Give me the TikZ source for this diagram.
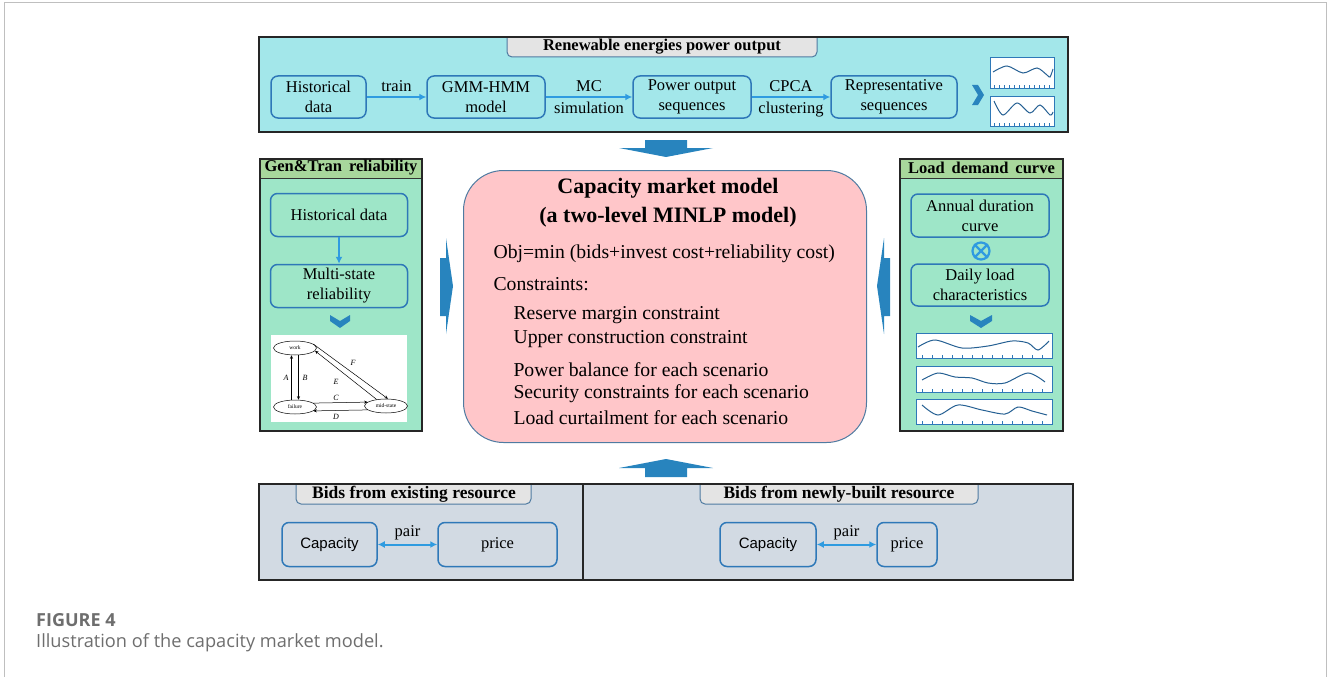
\documentclass[tikz,border=0pt]{standalone}
\usepackage{fontspec}
\setmainfont{Liberation Serif}
\newfontfamily\capfont{Open Sans}
\newfontfamily\arialfont{Liberation Sans}
\usetikzlibrary{arrows.meta}
\usetikzlibrary{shapes.geometric}

\definecolor{boxblue}{HTML}{2E78B8}
\definecolor{linkblue}{HTML}{2F9BE0}
\definecolor{cyanfill}{HTML}{A3E7EA}
\definecolor{mintfill}{HTML}{9EE6C8}
\definecolor{barfill}{HTML}{A8D79C}
\definecolor{pinkfill}{HTML}{FFC6C9}
\definecolor{grayfill}{HTML}{D2DAE3}
\definecolor{tabfill}{HTML}{E4E4E4}
\definecolor{capgray}{HTML}{6E6E6E}

\tikzset{
  box/.style={draw=boxblue, line width=1.5pt, rounded corners=7pt, align=center,
    inner sep=0pt, font=\fontsize{16.5}{20}\selectfont},
  link/.style={draw=linkblue, line width=2pt, -{Latex[length=7pt,width=7pt]}},
  pairlink/.style={draw=linkblue, line width=2pt,
    {Latex[length=7pt,width=7pt]}-{Latex[length=7pt,width=7pt]}},
  lbl/.style={font=\fontsize{16.5}{20}\selectfont, inner sep=1pt},
  panel/.style={draw=black!85, line width=1.5pt},
  tab/.style={fill=tabfill, draw=boxblue!60!gray, line width=1pt, rounded corners=5pt},
  tabtitle/.style={font=\bfseries\fontsize{16.5}{19}\selectfont},
  blockarrow/.style={fill=linkblue!85!black},
  wave/.style={draw=boxblue!80!black, line width=1pt},
  curvebox/.style={draw=boxblue, line width=1pt, fill=white, inner sep=0pt},
  body/.style={anchor=west, font=\fontsize{19.7}{23}\selectfont},
  state/.style={draw, ellipse, line width=0.5pt, inner sep=0pt, minimum width=43pt,
    minimum height=14pt, font=\fontsize{5.5}{6}\selectfont},
  trans/.style={line width=0.5pt, -{Stealth[length=3.5pt,width=3pt]}},
  letter/.style={font=\itshape\fontsize{8}{9}\selectfont, inner sep=0pt},
}

\begin{document}
\begin{tikzpicture}[x=1pt,y=-1pt]
  \useasboundingbox (0,0) rectangle (1328,677);
  % Frame.
  \draw[black!25, line width=1pt] (4,690) -- (4,3) -- (1326,3) -- (1326,690);

  % Renewable energies panel.
  \fill[cyanfill] (259,37) rectangle (1068,132);
  \path[tab] (507,37) -- (507,57) -- (817,57) -- (817,37);
  \draw[panel] (259,37) rectangle (1068,132);
  \node[tabtitle] (retitle) at (662,47) {Renewable energies power output};
  \node[box, minimum width=95pt, minimum height=42pt] (hist) at (318.5,97) {Historical\\data};
  \node[box, minimum width=118pt, minimum height=42pt] (gmm) at (486,97) {GMM-HMM\\model};
  \node[box, minimum width=118pt, minimum height=42pt] (seq) at (692,97) {Power output\\sequences};
  \node[box, minimum width=126pt, minimum height=42pt] (rep) at (894,97) {Representative\\sequences};
  \draw[link] (hist) -- node[lbl, above=3pt] (trainlbl) {train} (gmm);
  \draw[link] (gmm) -- node[lbl, above=3pt] (mclbl) {MC} node[lbl, below=3pt] (simlbl) {simulation} (seq);
  \draw[link] (seq) -- node[lbl, above=3pt] (cpcalbl) {CPCA} node[lbl, below=3pt] (clulbl) {clustering} (rep);
  \fill[blockarrow] (972,85) -- (978,85) -- (984,95) -- (978,105) -- (972,105) -- (978,95) -- cycle;
  \node[curvebox, minimum width=64pt, minimum height=30pt] (wavea) at (1022,73) {};
  \node[curvebox, minimum width=64pt, minimum height=30pt] (waveb) at (1022,111) {};
  \draw[wave] plot[smooth] coordinates {(993,72) (1007,66) (1023,73) (1037,68) (1047,75) (1050,77) (1053,69)};
  \draw[wave] plot[smooth] coordinates {(994,101) (1003,115) (1017,103) (1030,113) (1040,105) (1050,115) (1053,112)};
  \foreach \x in {994,999,...,1052} {
    \draw[boxblue, line width=0.5pt] (\x,88) -- (\x,85);
    \draw[boxblue, line width=0.5pt] (\x,126) -- (\x,123);
  }

  % Block arrows.
  \fill[blockarrow] (645,140) -- (687,140) -- (687,148) -- (713,148) -- (666,157) -- (619,148) -- (645,148) -- cycle;
  \fill[blockarrow] (645,477) -- (687,477) -- (687,468) -- (713,468) -- (666,459) -- (619,468) -- (645,468) -- cycle;
  \fill[blockarrow] (440,258) -- (446,258) -- (446,238) -- (453,286) -- (446,334) -- (446,316) -- (440,316) -- cycle;
  \fill[blockarrow] (890,258) -- (884,258) -- (884,238) -- (877,286) -- (884,334) -- (884,316) -- (890,316) -- cycle;

  % Gen&Tran reliability panel.
  \fill[mintfill] (260,159) rectangle (422,431);
  \fill[barfill] (260,159) rectangle (422,178);
  \draw[black!80] (260,178) -- (422,178);
  \draw[panel] (260,159) rectangle (422,431);
  \node[tabtitle] (gentitle) at (341,168) {Gen\&Tran\, reliability};
  \node[box, minimum width=137pt, minimum height=43pt] (ghist) at (339,215) {Historical data};
  \node[box, minimum width=137pt, minimum height=43pt] (multi) at (339,286) {Multi-state\\reliability};
  \draw[link] (ghist) -- (multi);
  \fill[blockarrow] (330,315) -- (340,321) -- (350,315) -- (350,321) -- (340,328) -- (330,321) -- cycle;
  \fill[white] (271,335) rectangle (407,422);
  \node[state] (work) at (295,348) {work};
  \node[state] (failure) at (295,407) {failure};
  \node[state] (midst) at (386,406) {mid-state};
  \draw[trans] ([xshift=-3.5pt]failure.north) -- ([xshift=-3.5pt]work.south);
  \draw[trans] ([xshift=3.5pt]work.south) -- ([xshift=3.5pt]failure.north);
  \draw[trans] (failure.12) -- (midst.168);
  \draw[trans] (midst.192) -- (failure.348);
  \draw[trans] (midst.145) -- (work.352);
  \draw[trans] (work.12) -- (midst.75);
  \node[letter] (la) at (286,378) {A};
  \node[letter] (lb) at (305,378) {B};
  \node[letter] (lc) at (336,398) {C};
  \node[letter] (ld) at (336,417) {D};
  \node[letter] (le) at (336,382) {E};
  \node[letter] (lf) at (353,363) {F};

  % Load demand panel.
  \fill[mintfill] (900,159) rectangle (1063,431);
  \fill[barfill] (900,159) rectangle (1063,178);
  \draw[black!80] (900,178) -- (1063,178);
  \draw[panel] (900,159) rectangle (1063,431);
  \node[tabtitle] (loadtitle) at (981.5,168) {Load\, demand\, curve};
  \node[box, minimum width=138pt, minimum height=43pt] (annual) at (980,215.5) {Annual duration\\curve};
  \node[box, minimum width=138pt, minimum height=42pt] (daily) at (980,285) {Daily load\\characteristics};
  \node[circle, draw=linkblue, line width=2.2pt, minimum size=17pt, inner sep=0pt] (otimes) at (981,251) {};
  \draw[linkblue, line width=2.2pt] (otimes.45) -- (otimes.225) (otimes.135) -- (otimes.315);
  \fill[blockarrow] (970,315) -- (981,321) -- (992,315) -- (992,321) -- (981,328) -- (970,321) -- cycle;
  \node[curvebox, minimum width=136pt, minimum height=25pt] (loada) at (984,346) {};
  \node[curvebox, minimum width=136pt, minimum height=26pt] (loadb) at (984,379) {};
  \node[curvebox, minimum width=136pt, minimum height=25pt] (loadc) at (984,412) {};
  \draw[wave] plot[smooth] coordinates {(918,347) (935,340) (962,348) (988,346) (1012,341) (1028,343) (1038,350) (1049,341)};
  \draw[wave] plot[smooth] coordinates {(922,380) (938,373) (955,377) (972,378) (988,383) (1005,383) (1028,373) (1045,382)};
  \draw[wave] plot[smooth] coordinates {(922,405) (938,415) (958,405) (982,410) (1005,414) (1018,407) (1032,411) (1047,415)};
  \foreach \y in {358,392,424}
    \foreach \x in {922,932,...,1048}
      \draw[boxblue, line width=0.5pt] (\x,\y) -- (\x,\y-3);

  % Capacity market model.
  \node[draw=boxblue!60!gray, fill=pinkfill, line width=1pt, rounded corners=40pt,
    minimum width=403pt, minimum height=272pt] (cmm) at (665,306.5) {};
  \node[font=\bfseries\fontsize{22}{29}\selectfont, align=center] (cmmtitle) at (668,203)
    {Capacity market model\\(a two-level MINLP model)};
  \node[body] (obj) at (490,254) {Obj=min (bids+invest cost+reliability cost)};
  \node[body] (cons) at (490,284) {Constraints:};
  \node[body] (resv) at (510,315) {Reserve margin constraint};
  \node[body] (upper) at (510,339) {Upper construction constraint};
  \node[body] (bal) at (510,370) {Power balance for each scenario};
  \node[body] (secu) at (510,394) {Security constraints for each scenario};
  \node[body] (curt) at (510,418) {Load curtailment for each scenario};

  % Bids panel.
  \fill[grayfill] (259,484) rectangle (1073,580);
  \path[tab] (296,484) -- (296,504) -- (531,504) -- (531,484);
  \path[tab] (700,484) -- (700,504) -- (978,504) -- (978,484);
  \draw[panel] (259,484) rectangle (1073,580);
  \draw[panel] (583,484) -- (583,580);
  \node[tabtitle, font=\bfseries\fontsize{17.5}{19}\selectfont] (extitle) at (414,494) {Bids from existing resource};
  \node[tabtitle, font=\bfseries\fontsize{17.5}{19}\selectfont] (newtitle) at (839,494) {Bids from newly-built resource};
  \node[box, minimum width=95pt, minimum height=44pt] (capa) at (329.5,544.5) {\arialfont\fontsize{15}{18}\selectfont Capacity};
  \node[box, minimum width=119pt, minimum height=44pt] (pricea) at (497.5,544.5) {price};
  \node[box, minimum width=96pt, minimum height=44pt] (capb) at (768,544.5) {\arialfont\fontsize{15}{18}\selectfont Capacity};
  \node[box, minimum width=60pt, minimum height=44pt] (priceb) at (907,544.5) {price};
  \draw[pairlink] (capa) -- node[lbl, above=2pt] (paira) {pair} (pricea);
  \draw[pairlink] (capb) -- node[lbl, above=2pt] (pairb) {pair} (priceb);

  % Caption.
  \node[anchor=west, inner sep=0pt, text=capgray, font=\capfont\bfseries\fontsize{18}{20}\selectfont] (figno) at (36,620) {FIGURE 4};
  \node[anchor=west, inner sep=0pt, text=capgray, font=\capfont\fontsize{18.2}{20}\selectfont] (figcap) at (36,643) {Illustration of the capacity market model.};
\end{tikzpicture}
\end{document}
